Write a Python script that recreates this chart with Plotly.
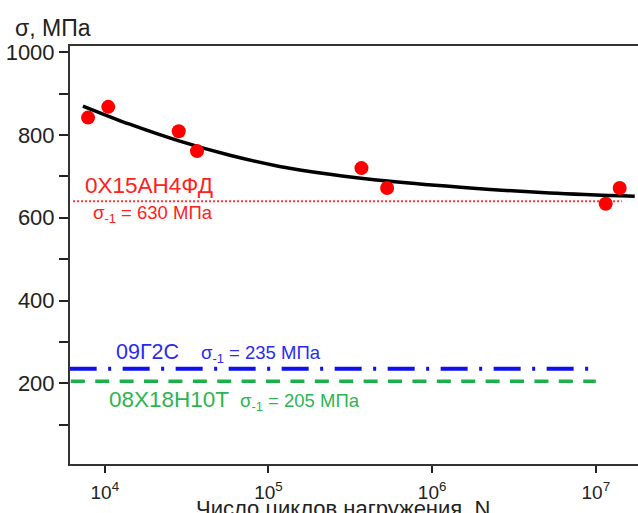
import plotly.graph_objects as go

# ---------------- data ----------------
# experimental points, steel 0X15AH4ФД
pts_N = [7.9e3, 1.05e4, 2.83e4, 3.66e4, 3.70e5, 5.31e5, 1.15e7, 1.40e7]
pts_S = [842, 868, 809, 761, 720, 672, 634, 672]

# fatigue curve
curve_N = [7.35e3, 1.42e4, 2.87e4, 5.81e4, 1.17e5, 2.37e5, 5.51e5, 1.70e6, 5.22e6, 1.73e7]
curve_S = [870, 826, 785, 751, 724, 705, 688, 672, 660, 652]

# endurance limits
red_N = [6.4e3, 1.44e7]
red_S = [640, 640]
blue_N = [6.1e3, 1.03e7]
blue_S = [235, 235]
green_N = [6.2e3, 1.0e7]
green_S = [205, 205]

x_tickvals = [1e4, 1e5, 1e6, 1e7]
x_ticktext = ["10<sup>4</sup>", "10<sup>5</sup>", "10<sup>6</sup>", "10<sup>7</sup>"]
y_tickvals = [100, 200, 300, 400, 500, 600, 700, 800, 900, 1000]
y_ticktext = ["", "200", "", "400", "", "600", "", "800", "", "1000"]

FONT = "Arial, 'Liberation Sans', sans-serif"
RED = "#ff0000"
RED_TXT = "#ff2020"
BLUE = "#1010ee"
BLUE_TXT = "#2a2af0"
GREEN = "#1bb04a"
GREEN_TXT = "#2cb552"

fig = go.Figure()

fig.add_trace(go.Scatter(x=red_N, y=red_S, mode="lines",
                         line=dict(color="#ff3030", width=2, dash="2px,2px"),
                         hoverinfo="skip"))
fig.add_trace(go.Scatter(x=blue_N, y=blue_S, mode="lines",
                         line=dict(color=BLUE, width=4, dash="27px,11.5px,3px,11.5px"),
                         hoverinfo="skip"))
fig.add_trace(go.Scatter(x=green_N, y=green_S, mode="lines",
                         line=dict(color=GREEN, width=3.7, dash="14px,10.4px"),
                         hoverinfo="skip"))
fig.add_trace(go.Scatter(x=curve_N, y=curve_S, mode="lines",
                         line=dict(color="black", width=3.5, shape="spline", smoothing=1.0)))
fig.add_trace(go.Scatter(x=pts_N, y=pts_S, mode="markers",
                         marker=dict(color=RED, size=14, line=dict(width=0))))

ann = []
def add_text(x, y, text, color, size, xanchor="left", xref="x", yref="y", yanchor="middle"):
    ann.append(dict(x=x, y=y, xref=xref, yref=yref, text=text, showarrow=False,
                    xanchor=xanchor, yanchor=yanchor,
                    font=dict(family=FONT, size=size, color=color)))

add_text(3.866, 678, "0Х15АН4ФД", RED_TXT, 22.5)
add_text(3.913, 610, "σ<sub>-1</sub> = 630 МПа", RED_TXT, 18.5)
add_text(4.055, 276, "09Г2С", BLUE_TXT, 21.5)
add_text(4.574, 272, "σ<sub>-1</sub> = 235 МПа", BLUE_TXT, 18.5)
add_text(4.014, 160, "08Х18Н10Т", GREEN_TXT, 22.5)
add_text(4.814, 156, "σ<sub>-1</sub> = 205 МПа", GREEN_TXT, 18.5)
add_text(-0.1, 1.043, "σ, МПа", "#222222", 23, xref="paper", yref="paper")
add_text(0.4815, -0.072, "Число циклов нагружения, N", "#222222", 22,
         xanchor="center", xref="paper", yref="paper", yanchor="top")

fig.update_layout(
    width=638, height=513,
    margin=dict(l=70, r=0, t=46, b=49),
    paper_bgcolor="white", plot_bgcolor="white",
    showlegend=False,
    font=dict(family=FONT, color="#222222"),
    annotations=ann,
    xaxis=dict(type="log", range=[3.7874, 7.258],
               tickvals=x_tickvals, ticktext=x_ticktext,
               ticks="outside", ticklen=7, tickwidth=1.5, tickcolor="#222",
               showline=True, linewidth=2, linecolor="#333", mirror=True,
               showgrid=False, zeroline=False, ticklabelstandoff=3,
               tickfont=dict(size=19, color="#222")),
    yaxis=dict(range=[5, 1015],
               tickvals=y_tickvals, ticktext=y_ticktext,
               ticks="outside", ticklen=9, tickwidth=1.5, tickcolor="#222",
               showline=True, linewidth=2, linecolor="#333", mirror=False,
               showgrid=False, zeroline=False,
               tickfont=dict(size=22, color="#222")),
)

fig.write_html("out.html")
